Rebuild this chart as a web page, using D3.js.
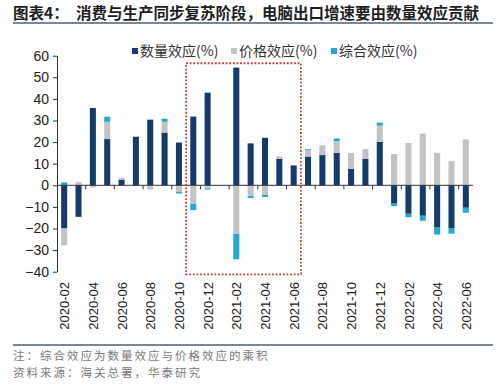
<!DOCTYPE html>
<html><head><meta charset="utf-8">
<script src="https://cdn.jsdelivr.net/npm/d3@7/dist/d3.min.js"></script>
<style>
html,body{margin:0;padding:0;background:#fff;}
svg{display:block;}
</style></head>
<body><svg id="c" width="500" height="390"></svg>
<script>
const months = ["2020-02","2020-03","2020-04","2020-05","2020-06","2020-07","2020-08","2020-09","2020-10","2020-11","2020-12","2021-01","2021-02","2021-03","2021-04","2021-05","2021-06","2021-07","2021-08","2021-09","2021-10","2021-11","2021-12","2022-01","2022-02","2022-03","2022-04","2022-05","2022-06"];
const quantityEffect = [-20,-14.6,35.8,21.4,2.6,22.5,30.4,24.4,19.8,31.8,42.9,0,54.5,19.4,22,12.2,9.2,13.3,14,15,7.6,12.2,20.1,-8.5,-13.2,-14.1,-19.6,-20,-10.4];
const priceEffect = [-7.8,1.4,-1,8,0.9,0,-2,5,-3,-8.5,-1.5,0,-22.5,-5,-4.5,1.1,0,3.1,4.5,5.5,7.4,4.6,7.5,14.5,19.6,23.9,15,11.2,21.2];
const combinedEffect = [1.4,0,0,2.4,0,0,0,1.4,-0.8,-3,-0.5,0,-11.8,-0.9,-0.9,0,0,0.4,0,1.2,0,0,1.4,-1.1,-1.6,-2.3,-3.2,-2.4,-2.3];
const seriesNames = ["数量效应(%)","价格效应(%)","综合效应(%)"];
const seriesColors = ["#173a6c","#c3c3c3","#27a6d8"];
const yTicks = [-40,-30,-20,-10,0,10,20,30,40,50,60];
const xLabels = months.filter((m,i)=>i%2===0);
const highlightFrom = "2020-11", highlightTo = "2021-06", highlightTop = 56.5, highlightBottom = -41.2;
const titlePrefix = "图表4：";
const titleText = "消费与生产同步复苏阶段，电脑出口增速要由数量效应贡献";
const noteText = "注：综合效应为数量效应与价格效应的乘积";
const sourceText = "资料来源：海关总署，华泰研究";

const svg = d3.select("#c");
const latin = "'Liberation Sans', Arial, sans-serif";
const cjk = "'Noto Sans CJK SC', 'Liberation Sans', sans-serif";

// Title
const t = svg.append("text").attr("y",19).attr("font-family",cjk).attr("font-weight","bold")
  .attr("font-size",15.5).attr("fill","#1e1e1e");
t.append("tspan").attr("x",13).text(titlePrefix);
t.append("tspan").attr("x",76).text(titleText);
svg.append("line").attr("x1",13).attr("x2",493).attr("y1",23).attr("y2",23)
  .attr("stroke","#4d5e73").attr("stroke-width",1.6);

// scales
const x = d3.scaleBand().domain(months).range([57,473]).paddingInner(0.58).paddingOuter(0.29);
const y = d3.scaleLinear().domain([-40,60]).range([271.7,55.7]);
const step = x.step(), bw = x.bandwidth();

// data table
const table = months.map((m,i)=>({month:m, q:quantityEffect[i], p:priceEffect[i], c:combinedEffect[i]}));
const keys = ["q","p","c"];
const stacked = d3.stack().keys(keys).offset(d3.stackOffsetDiverging)(table);

// bars
const g = svg.append("g");
stacked.forEach((layer,li)=>{
  g.append("g").attr("fill",seriesColors[li]).selectAll("rect").data(layer).join("rect")
    .attr("x",d=>x(d.data.month))
    .attr("width",bw)
    .attr("y",d=>y(Math.max(d[0],d[1])))
    .attr("height",d=>Math.abs(y(d[0])-y(d[1])));
});

// y axis
const ya = svg.append("g").attr("transform","translate(57,0)")
  .call(d3.axisLeft(y).tickValues(yTicks).tickSize(4).tickSizeOuter(0).tickPadding(4));
ya.select(".domain").attr("stroke","#333");
ya.selectAll(".tick line").attr("stroke","#333");
ya.selectAll(".tick text").attr("font-family",latin).attr("font-size",14).attr("fill","#222");

// zero line with ticks
svg.append("line").attr("x1",57).attr("x2",473).attr("y1",y(0)).attr("y2",y(0)).attr("stroke","#333").attr("stroke-width",1);
svg.append("g").selectAll("line").data(months.filter((m,i)=>i>0 && i%2===0)).join("line")
  .attr("x1",d=>x(d)+bw/2-step/2).attr("x2",d=>x(d)+bw/2-step/2)
  .attr("y1",y(0)).attr("y2",y(0)+4).attr("stroke","#333");

// x labels
svg.append("g").selectAll("text").data(xLabels).join("text")
  .attr("transform",d=>`translate(${x(d)+bw/2+0.5},282) rotate(-90)`)
  .attr("text-anchor","end").attr("dy","0.35em")
  .attr("font-family",latin).attr("font-size",13).attr("fill","#222")
  .text(d=>d);

// highlight box
svg.append("rect")
  .attr("x",x(highlightFrom)+bw/2-step/2)
  .attr("width",(x(highlightTo)+bw/2+step/2)-(x(highlightFrom)+bw/2-step/2))
  .attr("y",y(highlightTop)).attr("height",y(highlightBottom)-y(highlightTop))
  .attr("fill","none").attr("stroke","#c23b3b").attr("stroke-width",1.8).attr("stroke-dasharray","1.8,1.8");

// legend
const legX = [132, 231, 331];
const lg = svg.append("g");
seriesNames.forEach((n,i)=>{
  lg.append("rect").attr("x",legX[i]).attr("y",48).attr("width",6).attr("height",6).attr("fill",seriesColors[i]);
  lg.append("text").attr("x",legX[i]+8).attr("y",56).attr("font-family",cjk).attr("font-size",14).attr("fill","#333").text(n);
});

// footer
svg.append("line").attr("x1",13).attr("x2",493).attr("y1",345).attr("y2",345)
  .attr("stroke","#4d5e73").attr("stroke-width",1.6);
svg.append("text").attr("x",13).attr("y",359.5).attr("font-family",cjk).attr("font-size",11.5).attr("letter-spacing",2).attr("fill","#7a7a7a").text(noteText);
svg.append("text").attr("x",13).attr("y",376.5).attr("font-family",cjk).attr("font-size",11.5).attr("letter-spacing",2).attr("fill","#7a7a7a").text(sourceText);
</script></body></html>
